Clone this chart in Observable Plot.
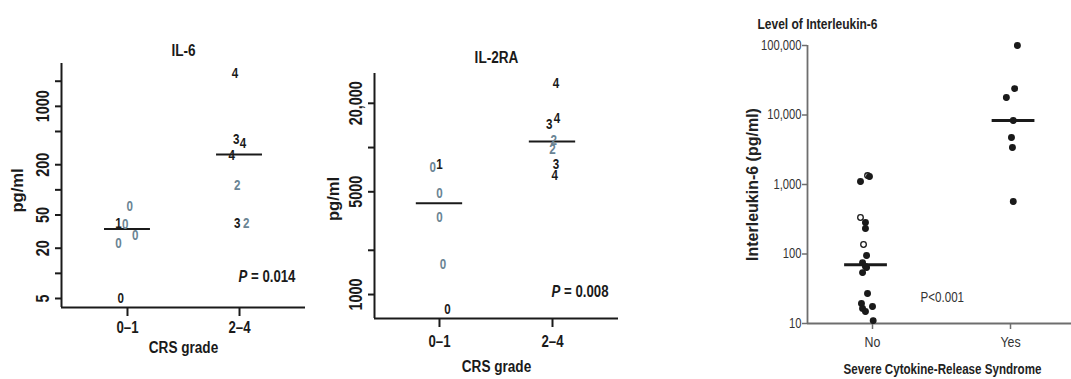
<!DOCTYPE html>
<html>
<head>
<meta charset="utf-8">
<script src="https://cdn.jsdelivr.net/npm/d3@7"></script>
<script src="https://cdn.jsdelivr.net/npm/@observablehq/plot@0.6"></script>
<style>
  html, body { margin: 0; padding: 0; background: #fff; }
  #wrap { position: relative; width: 1071px; height: 379px; overflow: hidden; background: #fff; }
  #wrap svg { position: absolute; top: 0; }
</style>
</head>
<body>
<div id="wrap"></div>
<script>
// ---------------- DATA ----------------
// Panel 1: IL-6 (pg/ml) by CRS grade, plotted as grade digits
const crsGroups = ["0–1", "2–4"];
const il6Group  = [0, 0, 0, 0, 0, 0, 1, 1, 1, 1, 1, 1, 1];
const il6Grade  = ["0", "1", "0", "0", "0", "0", "4", "3", "4", "4", "2", "3", "2"];
const il6Value  = [63, 40, 39, 28.5, 23, 5, 2480, 403, 360, 259, 113, 40, 40];
const il6Jitter = [0.02, -0.08, -0.02, 0.07, -0.08, -0.06, -0.04, -0.03, 0.03, -0.07, -0.02, -0.02, 0.06];
const il6Tone   = ["b", "k", "b", "b", "b", "k", "k", "k", "k", "k", "b", "k", "b"];
const il6Median = [34, 266];
const il6Ticks  = [5, 10, 20, 50, 100, 200, 500, 1000, 2000];
const il6TickLabels = [5, 20, 50, 200, 1000];
const il6P = "0.014";

// Panel 2: IL-2RA (pg/ml) by CRS grade
const il2Group  = [0, 0, 0, 0, 0, 0, 1, 1, 1, 1, 1, 1, 1];
const il2Grade  = ["0", "1", "0", "0", "0", "0", "4", "4", "3", "2", "2", "3", "4"];
const il2Value  = [7340, 7690, 4890, 3360, 1610, 795, 27300, 15800, 14400, 11200, 9730, 7690, 6480];
const il2Jitter = [-0.06, 0.0, 0.0, 0.0, 0.03, 0.07, 0.03, 0.04, -0.03, 0.01, 0.0, 0.03, 0.02];
const il2Tone   = ["b", "k", "b", "b", "b", "k", "k", "k", "k", "b", "b", "k", "k"];
const il2Median = [4180, 11000];
const il2Ticks  = [1000, 2000, 5000, 10000, 20000];
const il2TickLabels = [1000, 5000, 20000];
const il2P = "0.008";

// Panel 3: Interleukin-6 level by severe CRS (No / Yes)
const severeGroups = ["No", "Yes"];
const sevGroup  = [0,0,0,0,0,0,0,0,0,0,0,0,0,0,0,0,0,0, 1,1,1,1,1,1,1];
const sevValue  = [1104, 1346, 1303, 335, 284, 233, 137, 95, 75, 66, 64, 54, 27, 19.4, 16.5, 14.9, 17.6, 11,
                   100000, 24000, 17900, 8340, 4740, 3400, 570];
const sevJitter = [-0.087, -0.036, -0.022, -0.087, -0.051, -0.051, -0.065, -0.043, -0.072, -0.051, -0.043, -0.072, -0.036, -0.080, -0.072, -0.051, 0.0, 0.005,
                   0.05, 0.03, -0.03, 0.02, 0.007, 0.014, 0.02];
const sevOpen   = [false, true, false, true, false, false, true, false, false, false, false, false, false, false, false, false, false, false,
                   false, false, false, false, false, false, false];
const sevMedian = [70, 8340];
const sevMedianShift = [-0.047, 0.022];
const sevTicks  = [10, 100, 1000, 10000, 100000];
const sevP = "P<0.001";

// ---------------- STYLE ----------------
const FONT = "'Liberation Sans', Arial, Helvetica, sans-serif";
const INK = "#1a1a1a";
const BLUE = "#6a8494";
const GRAY = "#6e6e6e";
const HALF = 0.205;
const SX = 0.8; // horizontal condensing of the figure's narrow lettering

const wrap = document.getElementById("wrap");
function place(svg, left) { svg.style.left = left + "px"; wrap.appendChild(svg); }

// Condense text glyphs horizontally around each text's own anchor point
function condense(svg, skip) {
  svg.querySelectorAll("text").forEach(t => {
    if (skip.includes(t.textContent.trim())) return;
    const xa = t.getAttribute("x");
    const x = xa && !/em/.test(xa) ? +xa || 0 : 0;
    if (xa && !/em/.test(xa)) t.removeAttribute("x");
    const tr = t.getAttribute("transform") || "";
    t.setAttribute("transform", `${tr} translate(${x},0) scale(${SX},1)`);
  });
}

const near = (list, d) => list.some(t => Math.abs(t - d) / t < 1e-6);
const fmtTick = d => d >= 10000 ? d3.format(",")(d) : String(Math.round(d));

function rows(group, grade, value, jitter, tone) {
  return value.map((v, i) => ({v, g: group[i], j: jitter[i], t: grade[i], c: tone[i]}));
}

// ---------------- PANELS 1 & 2 ----------------
function gradePanel({rowsData, median, ticks, tickLabels, title, pval, width, margins, xDomain, yDomain, titleDy, xLabelDy, yLabelDx, yLabelDy, pPos, xTickPad}) {
  const svg = Plot.plot({
    width, height: 379,
    marginLeft: margins[0], marginRight: margins[1], marginTop: margins[2], marginBottom: margins[3],
    style: {background: "transparent", fontFamily: FONT, fontSize: "16px", fontWeight: "bold", color: INK, overflow: "visible"},
    x: {domain: xDomain},
    y: {type: "log", domain: yDomain},
    marks: [
      Plot.ruleX([xDomain[0]], {stroke: INK, strokeWidth: 2}),
      Plot.ruleY([yDomain[0]], {stroke: INK, strokeWidth: 2}),
      Plot.axisX({ticks: [0, 1], text: i => crsGroups[i], tickSize: 9, tickPadding: xTickPad, label: null, strokeWidth: 2, fontSize: 16.5}),
      Plot.axisY({ticks, text: d => near(tickLabels, d) ? fmtTick(d) : "", tickRotate: -90, tickSize: 6, tickPadding: 7, label: null, strokeWidth: 2, fontSize: 18}),
      Plot.ruleY(median, {y: d => d, x1: (d, i) => i - HALF, x2: (d, i) => i + HALF, stroke: INK, strokeWidth: 2}),
      Plot.text(rowsData, {x: d => d.g + d.j, y: "v", text: "t", fill: d => d.c === "b" ? BLUE : INK, fontSize: 14.5, fontWeight: "bold"}),
      Plot.text([title], {frameAnchor: "top", dy: titleDy, text: d => d, fontSize: 17}),
      Plot.text(["CRS grade"], {frameAnchor: "bottom", dy: xLabelDy, text: d => d, fontSize: 17}),
      Plot.text(["pg/ml"], {frameAnchor: "left", dx: yLabelDx, dy: yLabelDy, rotate: -90, textAnchor: "middle", text: d => d, fontSize: 16.5}),
      Plot.text([pPos], {x: "x", y: "y", text: () => "P", textAnchor: "end", fontStyle: "italic", fontSize: 16.5}),
      Plot.text([pPos], {x: "x", y: "y", text: () => "\u00a0= " + pval, textAnchor: "start", fontSize: 16.5})
    ]
  });
  condense(svg, ["pg/ml"]);
  return svg;
}

place(gradePanel({
  rowsData: rows(il6Group, il6Grade, il6Value, il6Jitter, il6Tone),
  median: il6Median, ticks: il6Ticks, tickLabels: il6TickLabels, title: "IL-6", pval: il6P,
  width: 320, margins: [61, 15, 63, 72], xDomain: [-0.589, 1.589], yDomain: [3.9, 3260],
  titleDy: -20, xLabelDy: 45, yLabelDx: -44, yLabelDy: 5, pPos: {x: 1.07, y: 9}, xTickPad: 5
}), 0);

place(gradePanel({
  rowsData: rows(il2Group, il2Grade, il2Value, il2Jitter, il2Tone),
  median: il2Median, ticks: il2Ticks, tickLabels: il2TickLabels, title: "IL-2RA", pval: il2P,
  width: 330, margins: [54, 32, 73, 61], xDomain: [-0.575, 1.584], yDomain: [687, 31900],
  titleDy: -23, xLabelDy: 53, yLabelDx: -41, yLabelDy: 3, pPos: {x: 1.07, y: 1052}, xTickPad: 8
}), 320);

// ---------------- PANEL 3 ----------------
const sevRows = sevValue.map((v, i) => ({v, g: sevGroup[i], j: sevJitter[i], o: sevOpen[i]}));
const sevXDomain = [-0.471, 1.442];
const sevYDomain = [10, 100000];
const p3 = Plot.plot({
  width: 381, height: 379,
  marginLeft: 117, marginRight: 0, marginTop: 45, marginBottom: 56,
  style: {background: "transparent", fontFamily: FONT, fontSize: "14px", color: "#333", overflow: "visible"},
  x: {domain: sevXDomain},
  y: {type: "log", domain: sevYDomain},
  marks: [
    Plot.ruleX([sevXDomain[0]], {stroke: GRAY, strokeWidth: 1.8}),
    Plot.ruleY([sevYDomain[0]], {stroke: GRAY, strokeWidth: 1.8}),
    Plot.axisX({ticks: [0, 1], text: i => severeGroups[i], tickSize: 6, tickPadding: 6, label: null, stroke: GRAY, strokeWidth: 1.5, fontSize: 15.5}),
    Plot.axisY({ticks: sevTicks, text: d => d3.format(",")(d), tickSize: 5, tickPadding: 1, label: null, stroke: GRAY, strokeWidth: 1.5}),
    Plot.ruleY(sevMedian, {y: d => d, x1: (d, i) => i + sevMedianShift[i] - 0.155, x2: (d, i) => i + sevMedianShift[i] + 0.155, stroke: INK, strokeWidth: 3}),
    Plot.dot(sevRows, {x: d => d.g + d.j, y: "v", r: 2.8, fill: d => d.o ? "white" : INK, stroke: INK, strokeWidth: 1.3}),
    Plot.text(["Level of Interleukin-6"], {frameAnchor: "top-left", dx: -50, dy: -27, textAnchor: "start", text: d => d, fontSize: 15, fontWeight: "bold", fill: "#222"}),
    Plot.text(["Severe Cytokine-Release Syndrome"], {frameAnchor: "bottom", dx: 3, dy: 50, text: d => d, fontSize: 14.5, fontWeight: "bold", fill: "#222"}),
    Plot.text(["Interleukin-6 (pg/ml)"], {frameAnchor: "left", dx: -55, rotate: -90, textAnchor: "middle", text: d => d, fontSize: 16, fontWeight: "bold", fill: "#222"}),
    Plot.text([{x: 0.348, y: 23.7}], {x: "x", y: "y", text: () => sevP, textAnchor: "start", fontSize: 14.5, fill: "#333"})
  ]
});
condense(p3, ["Interleukin-6 (pg/ml)"]);
place(p3, 690);
</script>
</body>
</html>
